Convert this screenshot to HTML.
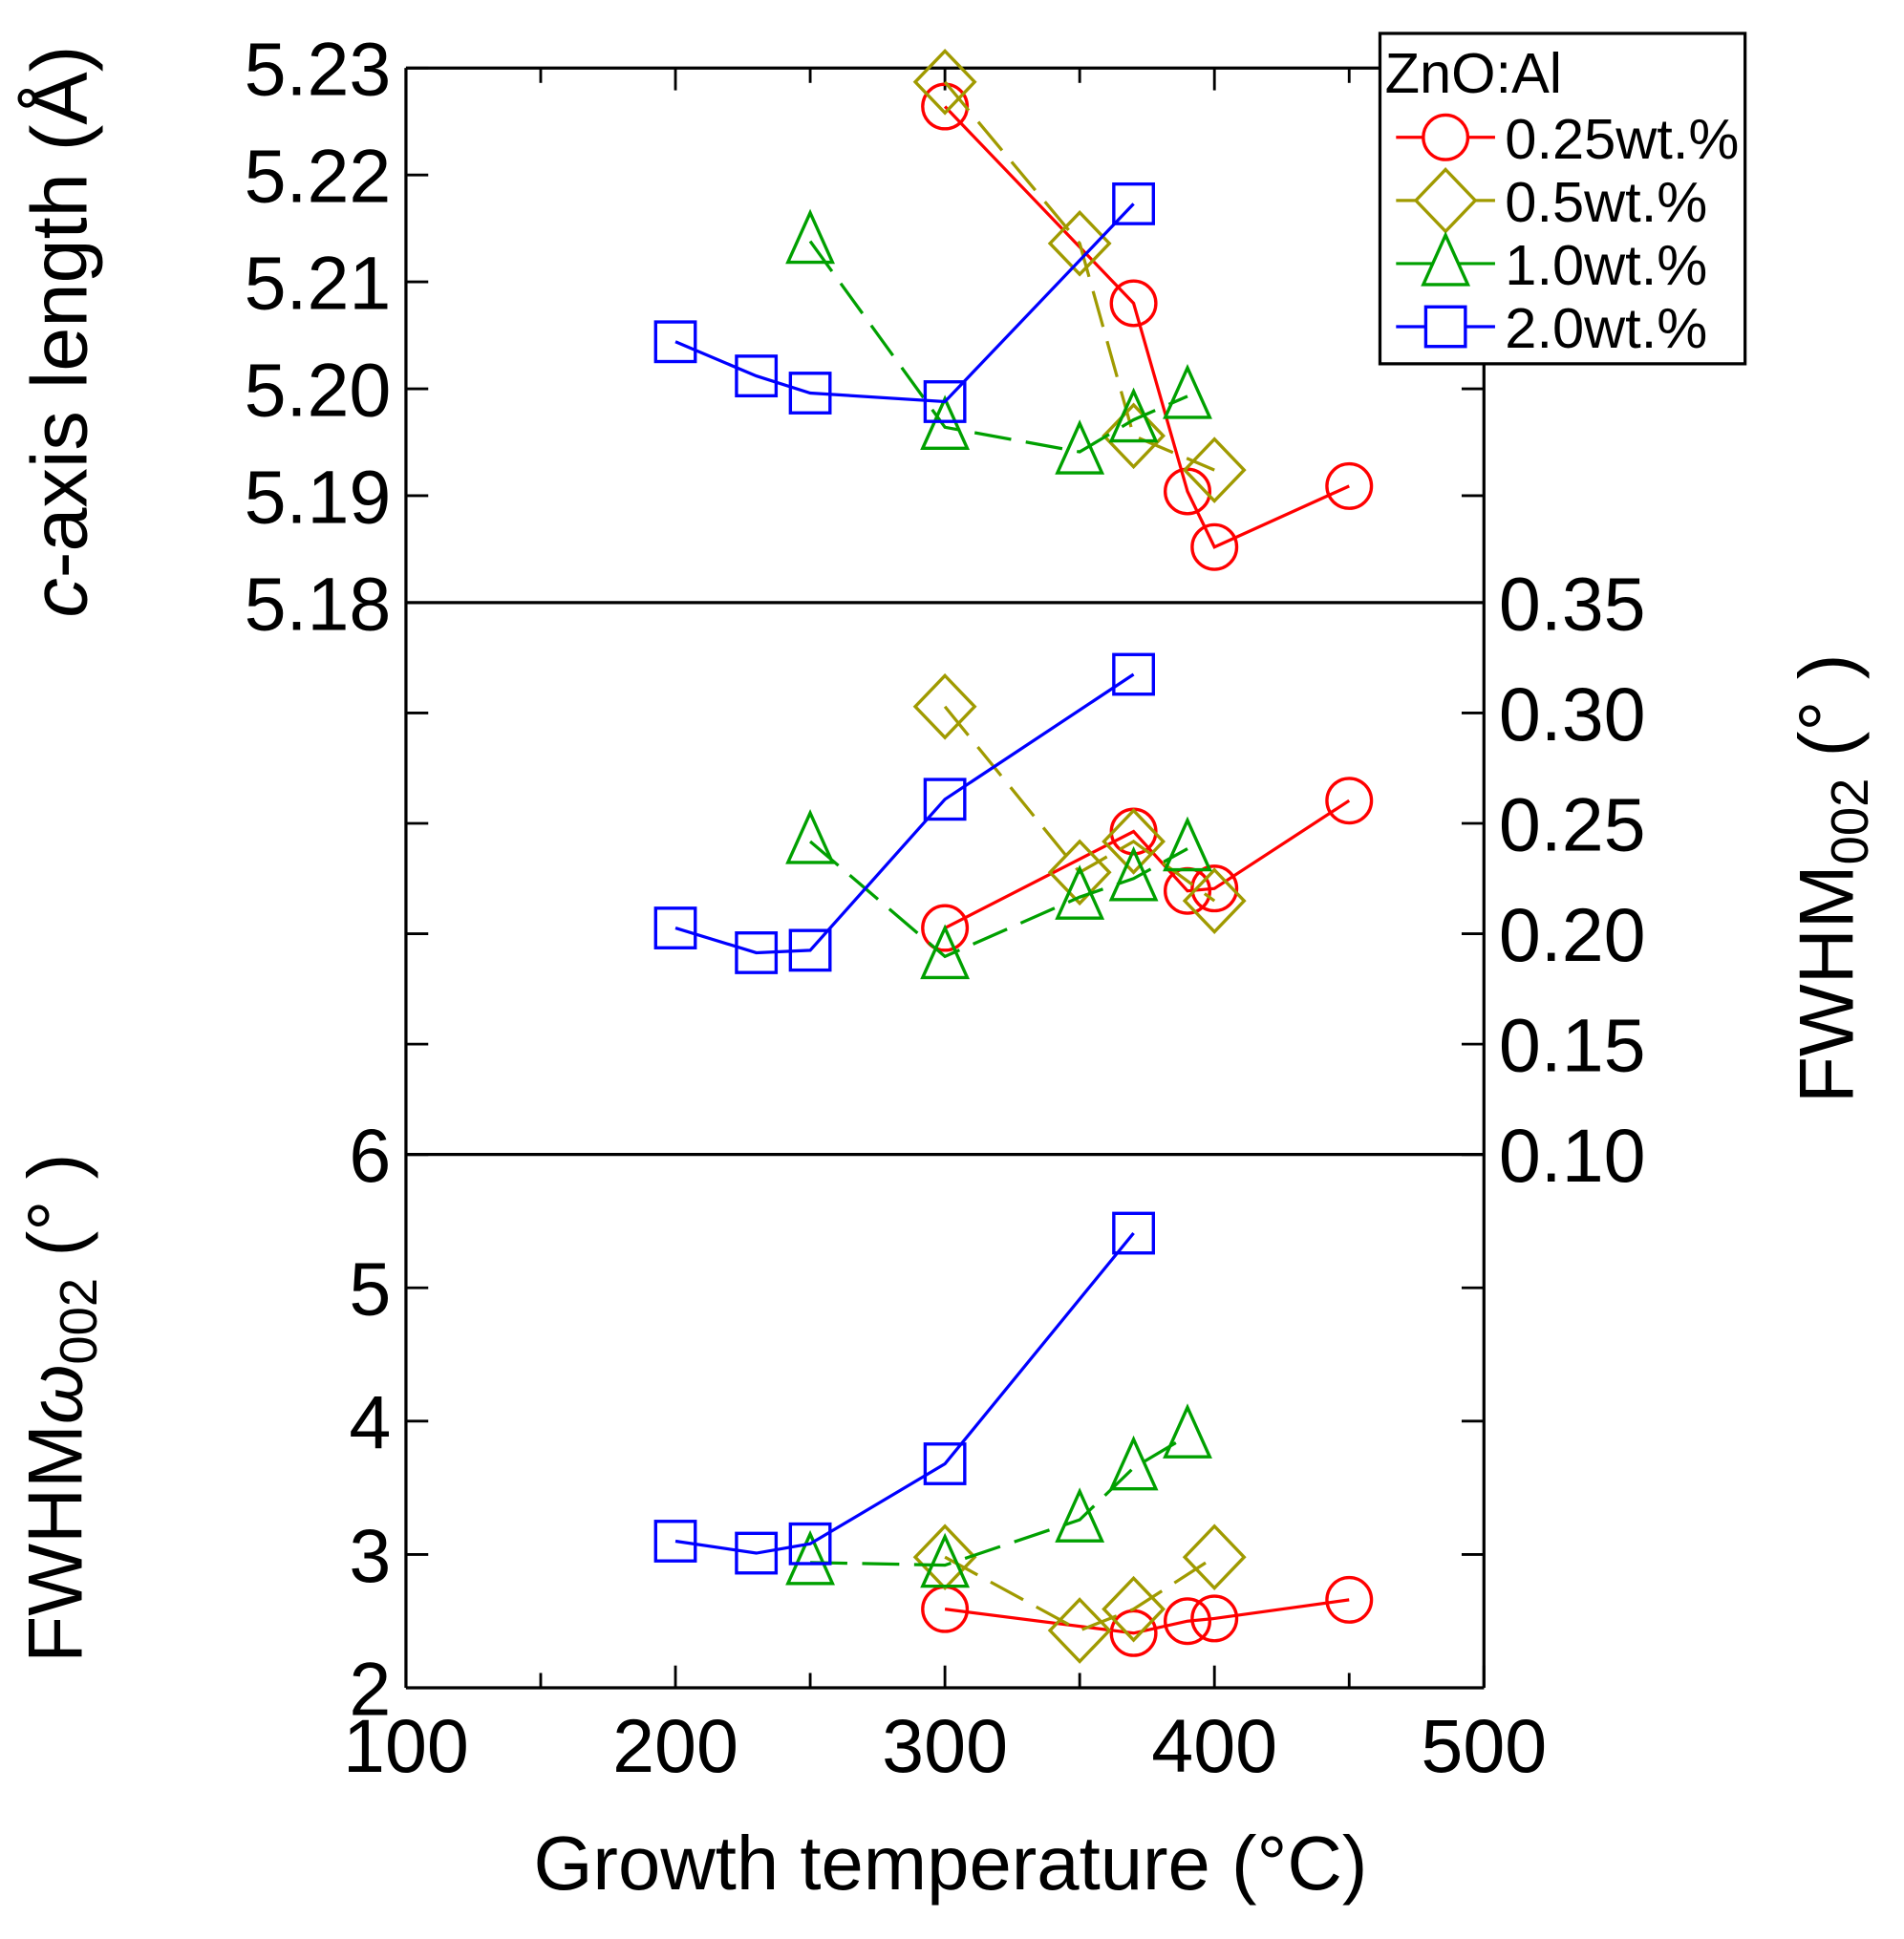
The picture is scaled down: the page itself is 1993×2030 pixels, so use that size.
<!DOCTYPE html>
<html><head><meta charset="utf-8">
<style>
html,body{margin:0;padding:0;background:#fff;}
svg{display:block;}
text{font-family:"Liberation Sans",Arial,sans-serif;fill:#000;}
</style></head>
<body>
<svg id="chart" xmlns="http://www.w3.org/2000/svg" width="1993" height="2030" viewBox="0 0 1538.4 1567">
</svg>
<script>
// ---- data ----
const xTicksMajor = [100,200,300,400,500];
const xTicksAll = [100,150,200,250,300,350,400,450,500];
const cTicks = ["5.18","5.19","5.20","5.21","5.22","5.23"];
const fTicks = ["0.10","0.15","0.20","0.25","0.30","0.35"];
const wTicks = ["2","3","4","5","6"];
const seriesNames = ["0.25wt.%","0.5wt.%","1.0wt.%","2.0wt.%"];

const temp025 = [300,370,390,400,450];
const temp05  = [300,350,370,400];
const temp10  = [250,300,350,370,390];
const temp20  = [200,230,250,300,370];

const caxis025 = [5.2264,5.2080,5.1904,5.1852,5.1909];
const caxis05  = [5.2287,5.2136,5.1956,5.1924];
const caxis10  = [5.2138,5.1964,5.1941,5.1971,5.1993];
const caxis20  = [5.2044,5.2012,5.1996,5.1988,5.2173];

const fwhm025 = [0.2026,0.2463,0.2194,0.2205,0.2603];
const fwhm05  = [0.3029,0.2278,0.2418,0.2149];
const fwhm10  = [0.2418,0.1897,0.2166,0.2250,0.2385];
const fwhm20  = [0.2026,0.1914,0.1925,0.2609,0.3175];

const omega025 = [2.59,2.41,2.50,2.52,2.66];
const omega05  = [2.98,2.43,2.59,2.98];
const omega10  = [2.94,2.92,3.26,3.65,3.89];
const omega20  = [3.10,3.01,3.08,3.68,5.41];

// ---- layout ----
const NS="http://www.w3.org/2000/svg";
const svg=document.getElementById('chart');
const L=328,R=1199;
const P1={top:55,bot:487,min:5.18,max:5.23};
const P2={top:487,bot:933,min:0.10,max:0.35};
const P3={top:933,bot:1364,min:2,max:6};
function xs(v){return L+(v-100)/400*(R-L);}
function ys(p,v){return p.bot-(v-p.min)/(p.max-p.min)*(p.bot-p.top);}
function mk(tag,attrs,parent){const e=document.createElementNS(NS,tag);for(const k in attrs)e.setAttribute(k,attrs[k]);(parent||svg).appendChild(e);return e;}

const styles=[
 {color:'#ff0000',dash:'',shape:'circle'},
 {color:'#a09a00',dash:'30 12',shape:'diamond'},
 {color:'#00a000',dash:'30 12',shape:'triangle'},
 {color:'#0000ff',dash:'',shape:'square'}
];
function marker(shape,cx,cy,color,g){
  let e;
  if(shape==='circle') e=mk('circle',{cx:cx,cy:cy,r:18},g);
  else if(shape==='square') e=mk('rect',{x:cx-16,y:cy-16,width:32,height:32},g);
  else if(shape==='diamond') e=mk('polygon',{points:`${cx},${cy-25} ${cx+24},${cy} ${cx},${cy+25} ${cx-24},${cy}`},g);
  else e=mk('polygon',{points:`${cx},${cy-23} ${cx+18},${cy+17} ${cx-18},${cy+17}`},g);
  e.setAttribute('fill','none');e.setAttribute('stroke',color);e.setAttribute('stroke-width','2.6');
  
  
  return e;
}

const frame=mk('g',{});


mk('line',{x1:L,y1:55,x2:L,y2:1364,stroke:'#000','stroke-width':2.5},frame);
mk('line',{x1:R,y1:294,x2:R,y2:1364,stroke:'#000','stroke-width':2.5},frame);
mk('line',{x1:L,y1:55,x2:1115,y2:55,stroke:'#000','stroke-width':2.5},frame);
mk('line',{x1:L,y1:1364,x2:R,y2:1364,stroke:'#000','stroke-width':2.5},frame);
mk('line',{x1:L,y1:487,x2:R,y2:487,stroke:'#000','stroke-width':2.5},frame);
mk('line',{x1:L,y1:933,x2:R,y2:933,stroke:'#000','stroke-width':2.5},frame);

xTicksAll.forEach(v=>{
  const x=xs(v);const len=(v%100===0)?18:12;
  if(x<1115) mk('line',{x1:x,y1:55,x2:x,y2:55+len,stroke:'#000','stroke-width':2.2},frame);
  mk('line',{x1:x,y1:1364,x2:x,y2:1364-len,stroke:'#000','stroke-width':2.2},frame);
});
xTicksMajor.forEach(v=>{
  const t=mk('text',{x:xs(v),y:1432,'font-size':61,'text-anchor':'middle'});
  t.textContent=v;
  
  
});

function yTicks(p,labels,side,showLabels){
  labels.forEach(lab=>{
    const y=ys(p,parseFloat(lab));
    mk('line',{x1:L,y1:y,x2:L+18,y2:y,stroke:'#000','stroke-width':2.2},frame);
    if(y>300||p!==P1) mk('line',{x1:R,y1:y,x2:R-18,y2:y,stroke:'#000','stroke-width':2.2},frame);
    if(showLabels){
      const t=mk('text',{x:side==='left'?L-12:R+12,y:y+22,'font-size':61,'text-anchor':side==='left'?'end':'start'});
      t.textContent=lab;
      
      
    }
  });
}
yTicks(P1,cTicks,'left',true);
yTicks(P2,fTicks,'right',true);
yTicks(P3,wTicks,'left',true);

function drawPanel(p,xsArr,ysArr,name){
  xsArr.forEach((xa,i)=>{
    const st=styles[i];
    const g=mk('g',{});
    
    
    const pts=xa.map((v,j)=>xs(v)+','+ys(p,ysArr[i][j])).join(' ');
    const pl=mk('polyline',{points:pts,fill:'none',stroke:st.color,'stroke-width':2.5},g);
    if(st.dash) pl.setAttribute('stroke-dasharray',st.dash);
    xa.forEach((v,j)=>marker(st.shape,xs(v),ys(p,ysArr[i][j]),st.color,g));
  });
}
const temps=[temp025,temp05,temp10,temp20];
drawPanel(P1,temps,[caxis025,caxis05,caxis10,caxis20],'c-axis');
drawPanel(P2,temps,[fwhm025,fwhm05,fwhm10,fwhm20],'fwhm');
drawPanel(P3,temps,[omega025,omega05,omega10,omega20],'omega');

const lg=mk('g',{});


mk('rect',{x:1115,y:27,width:295,height:267,fill:'#fff',stroke:'#000','stroke-width':2.5},lg);
const lt=mk('text',{x:1119,y:75,'font-size':46},lg);
lt.textContent='ZnO:Al';


seriesNames.forEach((n,i)=>{
  const y=111+i*51;const st=styles[i];
  const e=mk('g',{},lg);
  
  
  mk('line',{x1:1128,y1:y,x2:1208,y2:y,stroke:st.color,'stroke-width':2.5},e);
  const m=marker(st.shape,1168,y,st.color,e);m.setAttribute('fill','#fff');
  const t=mk('text',{x:1216,y:y+17,'font-size':46},e);
  t.textContent=n;
});

function title(x,y,html,name,fs){
  const t=mk('text',{x:x,y:y,'font-size':fs,'text-anchor':'middle',transform:`rotate(-90 ${x} ${y})`});
  t.innerHTML=html;
  
  
}
title(70,268,'<tspan font-style="italic">c</tspan>-axis length (Å)','c-axis-y-title',64);
title(1497,710,'FWHM<tspan font-size="42" dy="12">002</tspan><tspan dy="-12"> (° )</tspan>','fwhm-y-title',62);
title(66,1138,'FWHM<tspan font-style="italic">ω</tspan><tspan font-size="42" dy="12">002</tspan><tspan dy="-12"> (° )</tspan>','omega-y-title',62);
const xt=mk('text',{x:768,y:1527,'font-size':61.5,'text-anchor':'middle'});
xt.textContent='Growth temperature (°C)';


</script>
</body></html>
